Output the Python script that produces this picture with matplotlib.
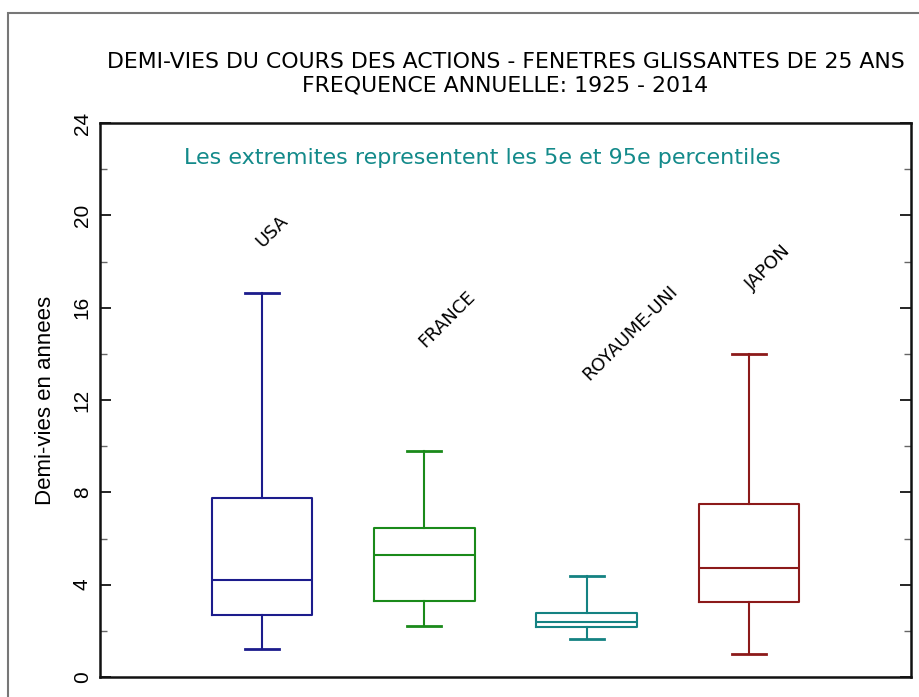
import matplotlib.pyplot as plt
from matplotlib.patches import Rectangle
from matplotlib.ticker import MultipleLocator

# demi-vies (annees): 5e pct, Q1, mediane, Q3, 95e pct
pays = ["USA", "FRANCE", "ROYAUME-UNI", "JAPON"]
p5 = [1.2, 2.22, 1.65, 1.0]
q1 = [2.69, 3.28, 2.18, 3.25]
mediane = [4.2, 5.29, 2.37, 4.72]
q3 = [7.76, 6.46, 2.79, 7.5]
p95 = [16.64, 9.79, 4.39, 14.0]
couleurs = ["#1c1c8c", "#1a8a1a", "#148282", "#8c1a1a"]

# position des etiquettes (x, y) en coordonnees des donnees
etiq_x = [1.06, 2.14, 3.27, 4.12]
etiq_y = [19.3, 15.5, 14.9, 17.7]

fig = plt.figure(figsize=(9.2, 6.97), dpi=100)
ax = fig.add_axes([100 / 920, 20 / 697, 811 / 920, 554 / 697])

# cadre gris autour de la figure
fig.patches.append(Rectangle((8 / 920, -0.1), 1.2, (697 - 13) / 697 + 0.1,
                             transform=fig.transFigure, fill=False,
                             edgecolor="#777777", linewidth=1.5))

for i in range(len(pays)):
    stats = [dict(med=mediane[i], q1=q1[i], q3=q3[i],
                  whislo=p5[i], whishi=p95[i], fliers=[])]
    props = dict(color=couleurs[i], linewidth=1.5)
    ax.bxp(stats, positions=[i + 1], widths=0.62, showfliers=False,
           boxprops=props, whiskerprops=props, medianprops=props,
           capprops=dict(color=couleurs[i], linewidth=2.0), capwidths=0.21)
    ax.text(etiq_x[i], etiq_y[i], pays[i], rotation=45, ha="center",
            va="center", fontsize=13, family="DejaVu Sans")

ax.set_xlim(0, 5)
ax.set_ylim(0, 24)
ax.set_xticks([])
ax.yaxis.set_major_locator(MultipleLocator(4))
ax.yaxis.set_minor_locator(MultipleLocator(2))
ax.tick_params(axis="y", which="both", direction="in", right=True)
ax.tick_params(axis="y", which="major", length=8, width=1.2, pad=6)
ax.tick_params(axis="y", which="minor", length=5, width=1.0, color="#666666")
for lab in ax.get_yticklabels():
    lab.set_rotation(90)
    lab.set_va("center")
    lab.set_fontsize(15)
    lab.set_family("Liberation Sans")
for sp in ax.spines.values():
    sp.set_linewidth(1.8)
    sp.set_color("#111111")

ax.set_ylabel("Demi-vies en annees", fontsize=16, family="Liberation Sans",
              labelpad=12)

ax.text(2.36, 22.5, "Les extremites representent les 5e et 95e percentiles",
        ha="center", va="center", fontsize=16, color="#138a8a",
        family="DejaVu Sans")

fig.text(0.5495, 0.911, "DEMI-VIES DU COURS DES ACTIONS - FENETRES GLISSANTES DE 25 ANS",
         ha="center", va="center", fontsize=15.8, family="DejaVu Sans")
fig.text(0.5495, 0.877, "FREQUENCE ANNUELLE: 1925 - 2014",
         ha="center", va="center", fontsize=15.8, family="DejaVu Sans")

fig.savefig("out.png", dpi=100)
